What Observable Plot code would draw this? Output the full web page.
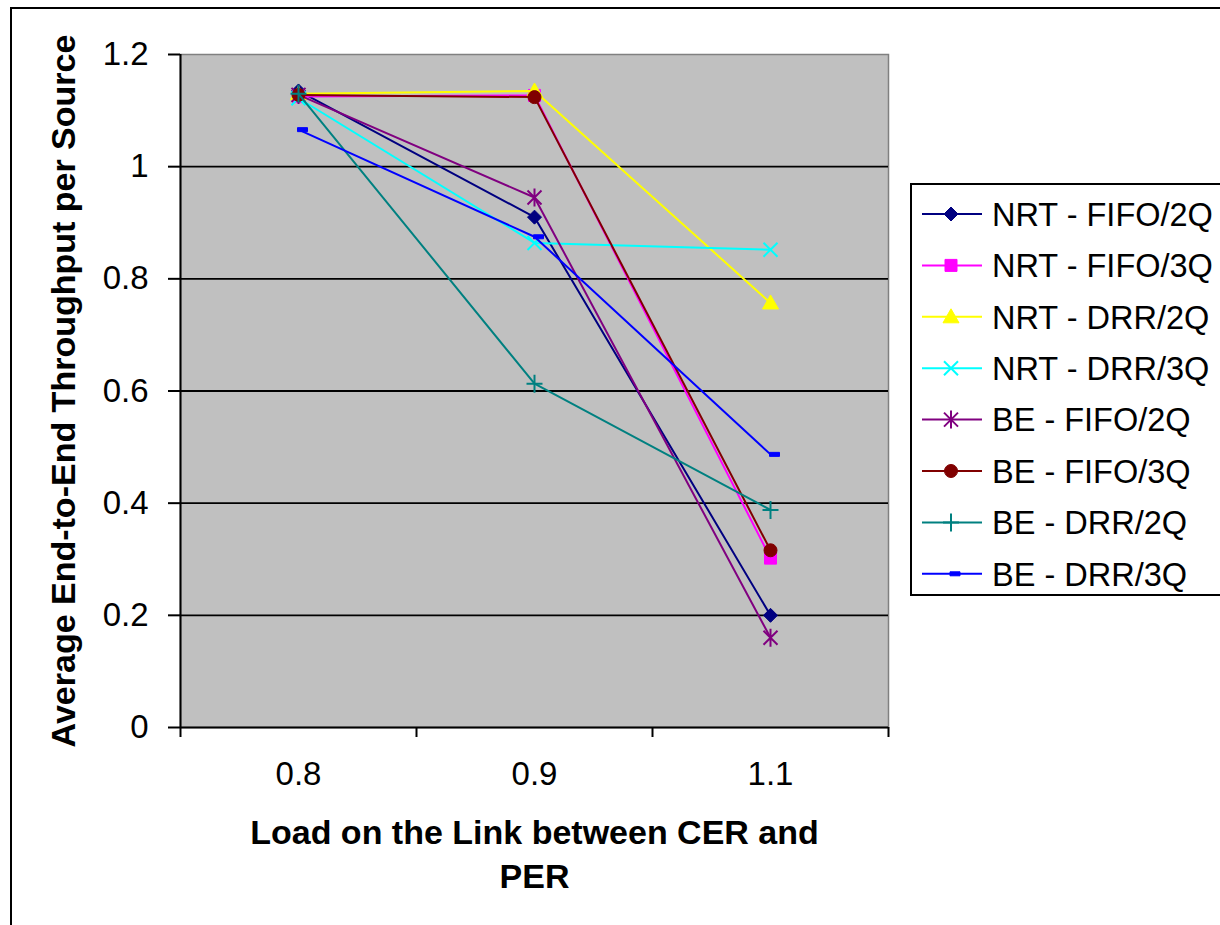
<!DOCTYPE html>
<html><head><meta charset="utf-8">
<script src="https://cdn.jsdelivr.net/npm/d3@7"></script>
<script src="https://cdn.jsdelivr.net/npm/@observablehq/plot@0.6"></script>
<style>
html,body{margin:0;padding:0;background:#fff;overflow:hidden;}
#wrap{position:relative;width:1220px;height:925px;overflow:hidden;font-family:"Liberation Sans",Arial,sans-serif;}
#border{position:absolute;left:10px;top:7px;width:1240px;height:960px;border:2px solid #000;box-sizing:border-box;}
#chart{position:absolute;left:0;top:0;}
#legend{position:absolute;left:910px;top:183px;}
</style></head><body>
<div id="wrap"><div id="border"></div><div id="chart"></div><svg id="legend" width="310" height="414"></svg></div>
<script>
// ---- data ----
const categories = ["0.8", "0.9", "1.1"];
const seriesNames = ["NRT - FIFO/2Q", "NRT - FIFO/3Q", "NRT - DRR/2Q", "NRT - DRR/3Q",
                     "BE - FIFO/2Q", "BE - FIFO/3Q", "BE - DRR/2Q", "BE - DRR/3Q"];
const nrtFifo2Q = [1.135, 0.910, 0.200];
const nrtFifo3Q = [1.125, 1.127, 0.302];
const nrtDrr2Q  = [1.130, 1.135, 0.757];
const nrtDrr3Q  = [1.122, 0.864, 0.852];
const beFifo2Q  = [1.128, 0.945, 0.160];
const beFifo3Q  = [1.128, 1.124, 0.316];
const beDrr2Q   = [1.130, 0.613, 0.388];
const beDrr3Q   = [1.066, 0.875, 0.487];
const seriesValues = [nrtFifo2Q, nrtFifo3Q, nrtDrr2Q, nrtDrr3Q, beFifo2Q, beFifo3Q, beDrr2Q, beDrr3Q];
const seriesColors = ["#000080", "#FF00FF", "#FFFF00", "#00FFFF", "#800080", "#800000", "#008080", "#0000FF"];
const seriesMarkers = ["diamond", "square", "triangle", "times", "asterisk", "circle", "plus", "dash"];
const yTicks = [0, 0.2, 0.4, 0.6, 0.8, 1, 1.2];
const yTitle = "Average End-to-End Throughput per Source";
const xTitleLines = ["Load on the Link between CER and", "PER"];

// ---- marker shapes ----
const symbols = {
  diamond: {draw(c){c.moveTo(0,-7);c.lineTo(7,0);c.lineTo(0,7);c.lineTo(-7,0);c.closePath();}},
  square: {draw(c){c.rect(-6,-6,12,12);}},
  triangle: {draw(c){c.moveTo(0,-8);c.lineTo(8,6);c.lineTo(-8,6);c.closePath();}},
  times: {draw(c){c.moveTo(-7,-7);c.lineTo(7,7);c.moveTo(7,-7);c.lineTo(-7,7);}},
  asterisk: {draw(c){c.moveTo(-7,-7);c.lineTo(7,7);c.moveTo(7,-7);c.lineTo(-7,7);c.moveTo(0,-9);c.lineTo(0,9);}},
  circle: {draw(c){c.moveTo(6.5,0);c.arc(0,0,6.5,0,2*Math.PI);}},
  plus: {draw(c){c.moveTo(-8,0);c.lineTo(8,0);c.moveTo(0,-9);c.lineTo(0,9);}},
  dash: {draw(c){c.rect(-1,-2,10,4);}}
};
const filled = new Set(["diamond","square","triangle","circle","dash"]);
function markStyle(s){
  const m = seriesMarkers[s], col = seriesColors[s];
  return filled.has(m) ? {fill: col, stroke: col, strokeWidth: 1}
                       : {fill: "none", stroke: col, strokeWidth: 2};
}

const seriesRows = seriesNames.map((name, s) =>
  seriesValues[s].map((v, i) => ({name, x: i, y: v})));

const seriesMarks = seriesRows.flatMap((rows, s) => [
  Plot.line(rows, {x: "x", y: "y", stroke: seriesColors[s], strokeWidth: 2}),
  Plot.dot(rows, {x: "x", y: "y", symbol: symbols[seriesMarkers[s]], r: 5, ...markStyle(s)})
]);

const font = "'Liberation Sans', Arial, sans-serif";
const chart = Plot.plot({
  width: 1220, height: 925,
  marginLeft: 180, marginRight: 332, marginTop: 54, marginBottom: 198,
  x: {domain: [-0.5, categories.length - 0.5]},
  y: {domain: [0, 1.2]},
  style: {fontFamily: font, fontSize: "33px", color: "black", background: "transparent"},
  marks: [
    Plot.frame({fill: "#C0C0C0", stroke: "#808080", strokeWidth: 1.5}),
    Plot.gridY(yTicks.filter(d => d > 0 && d < 1.2), {stroke: "#000", strokeOpacity: 1, strokeWidth: 1.8}),
    Plot.axisY(yTicks, {tickSize: 12, tickPadding: 20, tickFormat: d => String(d), label: null,
      fontSize: 33, stroke: "#000", strokeWidth: 2, fill: "#000"}),
    Plot.axisX(categories.map((c, i) => i), {tickSize: 0, tickPadding: 34, tickFormat: i => categories[i],
      label: null, fontSize: 33, fill: "#000"}),
    Plot.axisX(d3.range(categories.length + 1).map(i => i - 0.5), {tickSize: 10, tickFormat: () => "",
      label: null, stroke: "#000", strokeWidth: 2}),
    Plot.ruleX([-0.5], {stroke: "#000", strokeWidth: 2}),
    Plot.ruleY([0], {stroke: "#000", strokeWidth: 2}),
    ...seriesMarks,
    Plot.text([yTitle], {frameAnchor: "left", dx: -116, rotate: -90, textAnchor: "middle", lineAnchor: "middle",
      fontSize: 34, fontWeight: "bold", fill: "#000"}),
    Plot.text([xTitleLines[0]], {frameAnchor: "bottom", dy: 106, textAnchor: "middle", lineAnchor: "middle",
      fontSize: 34, fontWeight: "bold", fill: "#000"}),
    Plot.text([xTitleLines[1]], {frameAnchor: "bottom", dy: 150, textAnchor: "middle", lineAnchor: "middle",
      fontSize: 34, fontWeight: "bold", fill: "#000"})
  ]
});
document.getElementById("chart").appendChild(chart);

// ---- legend ----
const lg = d3.select("#legend");
lg.append("rect").attr("x", 1).attr("y", 1).attr("width", 340).attr("height", 411)
  .attr("fill", "#fff").attr("stroke", "#000").attr("stroke-width", 2);
seriesNames.forEach((name, s) => {
  const cy = 31 + s * 51.4;
  const g = lg.append("g").attr("transform", `translate(0,${cy})`);
  g.append("line").attr("x1", 12).attr("x2", 72).attr("y1", 0).attr("y2", 0)
    .attr("stroke", seriesColors[s]).attr("stroke-width", 2);
  const p = d3.path(); symbols[seriesMarkers[s]].draw(p);
  const st = markStyle(s);
  g.append("path").attr("d", p.toString()).attr("transform", "translate(41,0)")
    .attr("fill", st.fill).attr("stroke", st.stroke).attr("stroke-width", st.strokeWidth);
  g.append("text").attr("x", 82).attr("y", 0).attr("dy", "0.36em")
    .attr("font-family", font).attr("font-size", 32.5).attr("fill", "#000").text(name);
});
</script>
</body></html>
